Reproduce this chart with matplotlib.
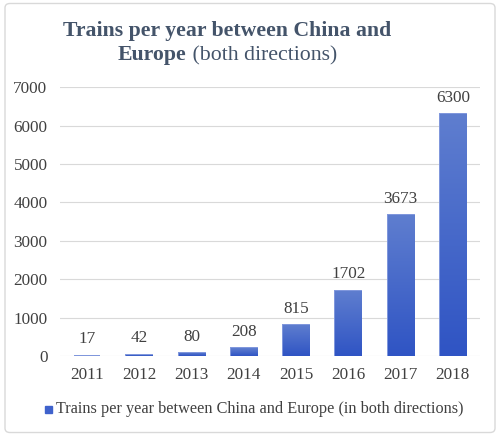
import numpy as np
import matplotlib.pyplot as plt
from matplotlib.patches import FancyBboxPatch
from matplotlib.colors import LinearSegmentedColormap

years = ['2011', '2012', '2013', '2014', '2015', '2016', '2017', '2018']
trains = [17, 42, 80, 208, 815, 1702, 3673, 6300]
yticks = [0, 1000, 2000, 3000, 4000, 5000, 6000, 7000]
legend_label = 'Trains per year between China and Europe (in both directions)'

plt.rcParams['font.family'] = ['Liberation Serif', 'DejaVu Serif']
txt = '#404040'

fig = plt.figure(figsize=(5, 4.36), dpi=100)
ax = fig.add_axes([0.12, 0.183, 0.84, 0.617])

x = np.arange(len(years))
bars = ax.bar(x, trains, width=0.5, color='#3f62cc', edgecolor='#7d95dc', linewidth=1.4, zorder=2)

# vertical gradient on every bar, lighter at the top
grad = np.linspace(0, 1, 256).reshape(-1, 1)
cmap = LinearSegmentedColormap.from_list('g', ['#2f54c4', '#5f7ecf'])
for b in bars:
    bx, by = b.get_x(), b.get_y()
    w, h = b.get_width(), b.get_height()
    im = ax.imshow(grad, extent=[bx, bx + w, by, by + h], origin='lower',
                   aspect='auto', cmap=cmap, zorder=2.5)
    im.set_clip_path(b)

for xi, v in zip(x, trains):
    ax.annotate(str(v), (xi, v), xytext=(0, 6), textcoords='offset points',
                ha='center', va='bottom', fontsize=12.3, color=txt)

ax.set_xlim(-0.52, len(years) - 0.48)
ax.set_ylim(0, 7000)
ax.set_yticks(yticks)
ax.set_xticks(x)
ax.set_xticklabels(years)
ax.tick_params(length=0, labelsize=12.3, colors=txt)
ax.tick_params(axis='y', pad=9)
ax.tick_params(axis='x', pad=8)
ax.grid(axis='y', color='#d9d9d9', linewidth=0.8, zorder=0)
for s in ax.spines.values():
    s.set_visible(False)

# legend
fig.patches.append(plt.Rectangle((0.09, 0.053), 0.014, 0.016, transform=fig.transFigure,
                                 color='#3f62cc', figure=fig))
fig.text(0.112, 0.061, legend_label, fontsize=11.7, color=txt, va='center', ha='left')

# title: bold first line, mixed second line
tcol = '#44546a'
fig.text(0.455, 0.93, 'Trains per year between China and', fontsize=15.7,
         fontweight='bold', color=tcol, ha='center', va='center')
fig.canvas.draw()
r = fig.canvas.get_renderer()
p1 = fig.text(0, 0.873, 'Europe', fontsize=15.7, fontweight='bold', color=tcol, va='center')
p2 = fig.text(0, 0.873, ' (both directions)', fontsize=15.7, color=tcol, va='center')
w1 = p1.get_window_extent(r).width / fig.bbox.width
w2 = p2.get_window_extent(r).width / fig.bbox.width
start = 0.455 - (w1 + w2) / 2
p1.set_x(start)
p2.set_x(start + w1)

# light rounded frame round the figure
fig.patches.append(FancyBboxPatch((0.01, 0.008), 0.98, 0.984, boxstyle='round,pad=0,rounding_size=0.01',
                                  transform=fig.transFigure, fill=False, edgecolor='#d9d9d9',
                                  linewidth=1, figure=fig))

fig.savefig('out.png', dpi=100)
